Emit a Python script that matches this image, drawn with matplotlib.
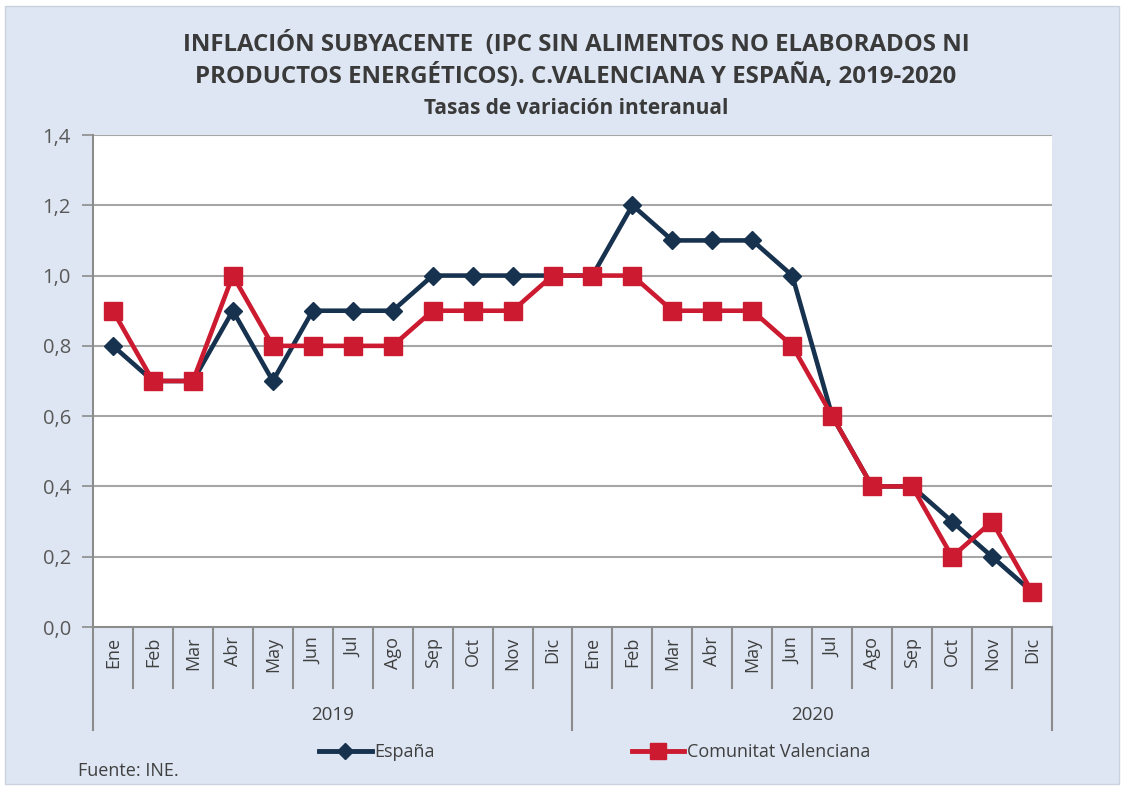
import matplotlib.pyplot as plt
from matplotlib.patches import Rectangle
from matplotlib.lines import Line2D
import matplotlib.transforms as mtransforms

plt.rcParams['font.family'] = ['Open Sans', 'DejaVu Sans']

meses = ['Ene', 'Feb', 'Mar', 'Abr', 'May', 'Jun', 'Jul', 'Ago', 'Sep', 'Oct', 'Nov', 'Dic']
anios = ['2019', '2020']
espana = [0.8, 0.7, 0.7, 0.9, 0.7, 0.9, 0.9, 0.9, 1.0, 1.0, 1.0, 1.0,
          1.0, 1.2, 1.1, 1.1, 1.1, 1.0, 0.6, 0.4, 0.4, 0.3, 0.2, 0.1]
valencia = [0.9, 0.7, 0.7, 1.0, 0.8, 0.8, 0.8, 0.8, 0.9, 0.9, 0.9, 1.0,
            1.0, 1.0, 0.9, 0.9, 0.9, 0.8, 0.6, 0.4, 0.4, 0.2, 0.3, 0.1]
yticks = [0.0, 0.2, 0.4, 0.6, 0.8, 1.0, 1.2, 1.4]

navy = '#17324f'
rojo = '#cc1b30'
fondo = '#dde6f2'
gris_txt = '#595959'

fig = plt.figure(figsize=(11.26, 7.89), dpi=100, facecolor='white')
fig.patches.append(Rectangle((5 / 1126, 5 / 789), 1114 / 1126, 778 / 789,
                             transform=fig.transFigure, facecolor=fondo,
                             edgecolor='#c9d2dd', linewidth=1, zorder=-10))

ax = fig.add_axes([93 / 1126, 1 - 627 / 789, 959 / 1126, 492 / 789])
ax.set_facecolor('white')

n = len(espana)
x = list(range(n))
etiquetas = meses * len(anios)

for v in yticks[1:]:
    ax.axhline(v, color='#a6a6a6', linewidth=1.5, zorder=1)

ax.plot(x, espana, color=navy, linewidth=3.3, marker='D', markersize=9,
        zorder=3, label='España')
ax.plot(x, valencia, color=rojo, linewidth=3.3, marker='s', markersize=12.5,
        zorder=4, label='Comunitat Valenciana')

ax.set_xlim(-0.5, n - 0.5)
ax.set_ylim(0, 1.4)
ax.set_yticks(yticks)
ax.set_yticklabels([f'{v:.1f}'.replace('.', ',') for v in yticks],
                   fontsize=14.5, color=gris_txt)
ax.tick_params(axis='y', length=8, width=1.2, color='#8c8c8c', pad=8)
ax.set_xticks(x)
ax.set_xticklabels(etiquetas, rotation=90, fontsize=13, color='#404040')
ax.tick_params(axis='x', length=0, pad=7)

for s in ['top', 'right']:
    ax.spines[s].set_visible(False)
ax.spines['left'].set_color('#8c8c8c')
ax.spines['left'].set_linewidth(1.5)
ax.spines['bottom'].set_color('#8c8c8c')
ax.spines['bottom'].set_linewidth(1.5)

# separadores de meses y de años bajo el eje
trans = mtransforms.blended_transform_factory(ax.transData, ax.transAxes)
for k in range(n + 1):
    largo = -0.21 if k % 12 == 0 else -0.124
    ax.plot([k - 0.5, k - 0.5], [0, largo], color='#8c8c8c', linewidth=1.5,
            transform=trans, clip_on=False)
for i, a in enumerate(anios):
    ax.text(i * 12 + 5.5, -0.178, a, transform=trans, ha='center', va='center',
            fontsize=13.5, color='#404040')

fig.text(576 / 1126, 1 - 45 / 789, 'INFLACIÓN SUBYACENTE  (IPC SIN ALIMENTOS NO ELABORADOS NI',
         ha='center', va='center', fontsize=17.3, fontweight='bold', color='#3a3a3a')
fig.text(576 / 1126, 1 - 77 / 789, 'PRODUCTOS ENERGÉTICOS). C.VALENCIANA Y ESPAÑA, 2019-2020',
         ha='center', va='center', fontsize=17.3, fontweight='bold', color='#3a3a3a')
fig.text(576 / 1126, 1 - 108 / 789, 'Tasas de variación interanual',
         ha='center', va='center', fontsize=15, fontweight='bold', color='#3a3a3a')

h1 = Line2D([], [], color=navy, linewidth=3.5, marker='D', markersize=8)
h2 = Line2D([], [], color=rojo, linewidth=3.5, marker='s', markersize=12)
leg = fig.legend([h1, h2], ['España', 'Comunitat Valenciana'], ncol=2,
                 loc='center left', bbox_to_anchor=(312 / 1126, 1 - 752 / 789),
                 frameon=False, fontsize=13, handlelength=2.9, handletextpad=0.15,
                 columnspacing=10.9, borderaxespad=0)
for t in leg.get_texts():
    t.set_color('#404040')

fig.text(78 / 1126, 1 - 771 / 789, 'Fuente: INE.', ha='left', va='center',
         fontsize=13, color='#404040')

fig.savefig('out.png', dpi=100, facecolor='white')
